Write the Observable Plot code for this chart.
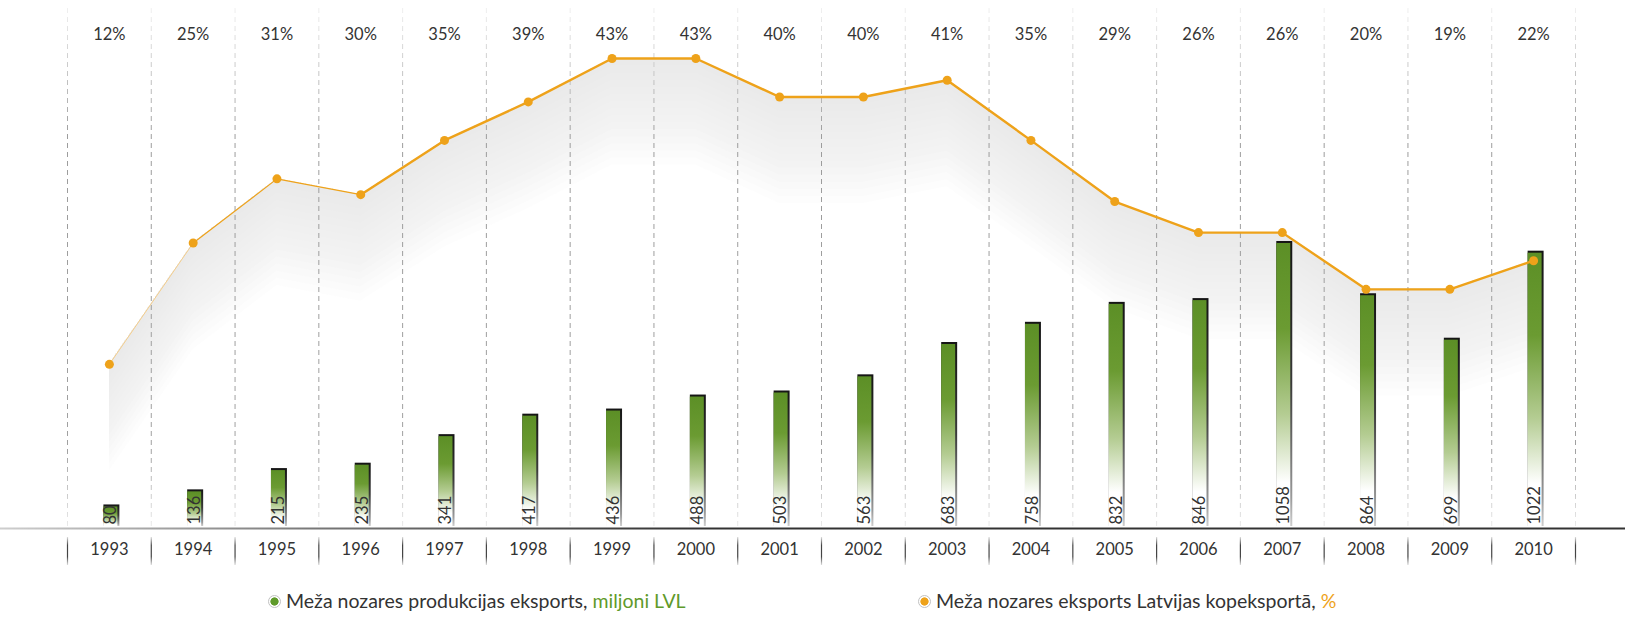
<!DOCTYPE html>
<html><head><meta charset="utf-8">
<script src="https://cdn.jsdelivr.net/npm/d3@7"></script>
<script src="https://cdn.jsdelivr.net/npm/@observablehq/plot@0.6"></script>
<style>
body{margin:0;background:#fff;overflow:hidden;}
#wrap{position:relative;width:1625px;height:617px;font-family:Lato,"DejaVu Sans Condensed",sans-serif;color:#333;}
#wrap svg{position:absolute;left:0;top:0;}
.leg{position:absolute;top:589px;height:24px;line-height:24px;font-size:19.5px;white-space:nowrap;display:flex;align-items:center;}
.dot{display:inline-block;width:11px;height:11px;border-radius:50%;border:1px solid #c2c2c2;margin-right:5px;}
</style></head><body><div id="wrap"></div>
<script>
const years = [1993,1994,1995,1996,1997,1998,1999,2000,2001,2002,2003,2004,2005,2006,2007,2008,2009,2010];
const exportLVL = [80,136,215,235,341,417,436,488,503,563,683,758,832,846,1058,864,699,1022];
const sharePct = [12,24.3,30.8,29.2,34.7,38.6,43,43,39.1,39.1,40.8,34.7,28.5,25.35,25.35,19.6,19.6,22.5];
const shareLabels = ["12%","25%","31%","30%","35%","39%","43%","43%","40%","40%","41%","35%","29%","26%","26%","20%","19%","22%"];
const legendLabels = ["Meža nozares produkcijas eksports, ", "miljoni LVL", "Meža nozares eksports Latvijas kopeksportā, ", "%"];

const GREEN = "#5e9a2c", ORANGE = "#eea21a", TEXT = "#333";
const data = years.map((year, i) => ({year, lvl: exportLVL[i], pct: sharePct[i], label: shareLabels[i]}));

const W = 1625, H = 578, ML = 67, MR = 50, MT = 0, MB = 50;
const bw = (W - ML - MR) / years.length;
const FONT = 'Lato,"DejaVu Sans Condensed",sans-serif';
const base = {width: W, height: H, marginLeft: ML, marginRight: MR, marginTop: MT, marginBottom: MB,
  x: {type: "band", domain: years, padding: 0, round: false, axis: null},
  style: {background: "transparent", overflow: "visible", fontFamily: FONT, position: "absolute", left: "0px", top: "0px"}};

function defs(html) {
  return () => { const g = document.createElementNS("http://www.w3.org/2000/svg", "g"); g.innerHTML = "<defs>" + html + "</defs>"; return g; };
}
const yPct = {domain: [-4.643, 48.88], axis: null};

// layer 1: soft grey ribbon under the share line
const ribbon = d3.range(1, 16).map(k => Plot.areaY(data, {x: "year", y1: "pct", y2: d => d.pct - k * 0.72, fill: "#e0e3e2", fillOpacity: 0.08}));
const p1 = Plot.plot({...base, y: yPct, marks: ribbon});

// layer 2: grid, bars, axis
const last = years[years.length - 1];
const p2 = Plot.plot({...base, y: {domain: [0, 1960], axis: null},
  marks: [
    defs(`
      <linearGradient id="barGrad" x1="0" y1="0" x2="0" y2="1">
        <stop offset="0" stop-color="#5c8f26"/><stop offset="0.3" stop-color="#6b9b32"/>
        <stop offset="0.6" stop-color="#b4cc92"/><stop offset="0.84" stop-color="#ffffff"/></linearGradient>
      <linearGradient id="shadowGrad" x1="0" y1="0" x2="0" y2="1">
        <stop offset="0" stop-color="#151515"/><stop offset="0.5" stop-color="#3a3a3a"/>
        <stop offset="0.9" stop-color="#9a9a9a"/><stop offset="1" stop-color="#cfcfcf"/></linearGradient>
      <linearGradient id="gridGrad" gradientUnits="userSpaceOnUse" x1="0" y1="8" x2="0" y2="528">
        <stop offset="0" stop-color="#f0f0f0"/><stop offset="0.25" stop-color="#9c9c9c"/>
        <stop offset="0.85" stop-color="#a0a0a0"/><stop offset="1" stop-color="#ececec"/></linearGradient>
      <linearGradient id="tickGrad" gradientUnits="userSpaceOnUse" x1="0" y1="500" x2="0" y2="528">
        <stop offset="0" stop-color="#ddd"/><stop offset="0.3" stop-color="#444"/>
        <stop offset="0.7" stop-color="#444"/><stop offset="1" stop-color="#ddd"/></linearGradient>
      <linearGradient id="axisGrad" gradientUnits="userSpaceOnUse" x1="-67" y1="0" x2="700" y2="0">
        <stop offset="0" stop-color="#e0e0e0"/><stop offset="0.5" stop-color="#777"/><stop offset="1" stop-color="#333"/></linearGradient>`),
    Plot.ruleX(years, {x: d => d, dx: -bw / 2, stroke: "url(#gridGrad)", strokeDasharray: "5,4", insetTop: 8, insetBottom: 2}),
    Plot.ruleX([last], {x: d => d, dx: bw / 2, stroke: "url(#gridGrad)", strokeDasharray: "5,4", insetTop: 8, insetBottom: 2}),
    Plot.barY(data, {x: "year", y: "lvl", fill: "url(#shadowGrad)", insetLeft: 36.4, insetRight: 31.4, dy: -2}),
    Plot.barY(data, {x: "year", y: "lvl", fill: "url(#barGrad)", insetLeft: 36.4, insetRight: 33.4}),
    Plot.text(data, {x: "year", y: 0, text: d => String(d.lvl), rotate: -90, textAnchor: "start", lineAnchor: "middle", dy: -4, dx: 1.5, fill: TEXT, fontSize: 16.5}),
    Plot.ruleY([0], {stroke: "url(#axisGrad)", strokeWidth: 2, insetLeft: -ML, insetRight: -MR}),
    Plot.ruleX(years, {x: d => d, dx: -bw / 2, stroke: "url(#tickGrad)", strokeWidth: 1.2, insetTop: 500, dy: 37}),
    Plot.ruleX([last], {x: d => d, dx: bw / 2, stroke: "url(#tickGrad)", strokeWidth: 1.2, insetTop: 500, dy: 37}),
    Plot.text(data, {x: "year", text: d => String(d.year), frameAnchor: "bottom", dy: 26, fontSize: 16.5, fill: TEXT})
  ]});

// layer 3: share line, dots, top labels
const p3 = Plot.plot({...base, y: yPct,
  marks: [
    Plot.line(data.filter(d => d.year <= 1994), {x: "year", y: "pct", stroke: "#f4cd8a", strokeWidth: 1}),
    Plot.line(data.filter(d => d.year >= 1994 && d.year <= 1996), {x: "year", y: "pct", stroke: ORANGE, strokeWidth: 1.2}),
    Plot.line(data.filter(d => d.year >= 1996), {x: "year", y: "pct", stroke: ORANGE, strokeWidth: 2.4}),
    Plot.dot(data, {x: "year", y: "pct", r: 4.5, fill: ORANGE}),
    Plot.text(data, {x: "year", text: "label", frameAnchor: "top", dy: 28, fontSize: 16.5, fill: TEXT})
  ]});

const wrap = document.getElementById("wrap");
wrap.append(p1, p2, p3);

function legend(left, color, main, unit) {
  const d = document.createElement("div");
  d.className = "leg"; d.style.left = left + "px";
  d.innerHTML = `<span class="dot" style="background:radial-gradient(circle, ${color} 0 3.8px, #fff 4.4px)"></span><span>${main}</span><span style="color:${color}">&nbsp;${unit}</span>`;
  wrap.append(d);
}
legend(268, "#5f9a2a", legendLabels[0].trimEnd(), legendLabels[1]);
legend(918, ORANGE, legendLabels[2].trimEnd(), legendLabels[3]);
</script></body></html>
